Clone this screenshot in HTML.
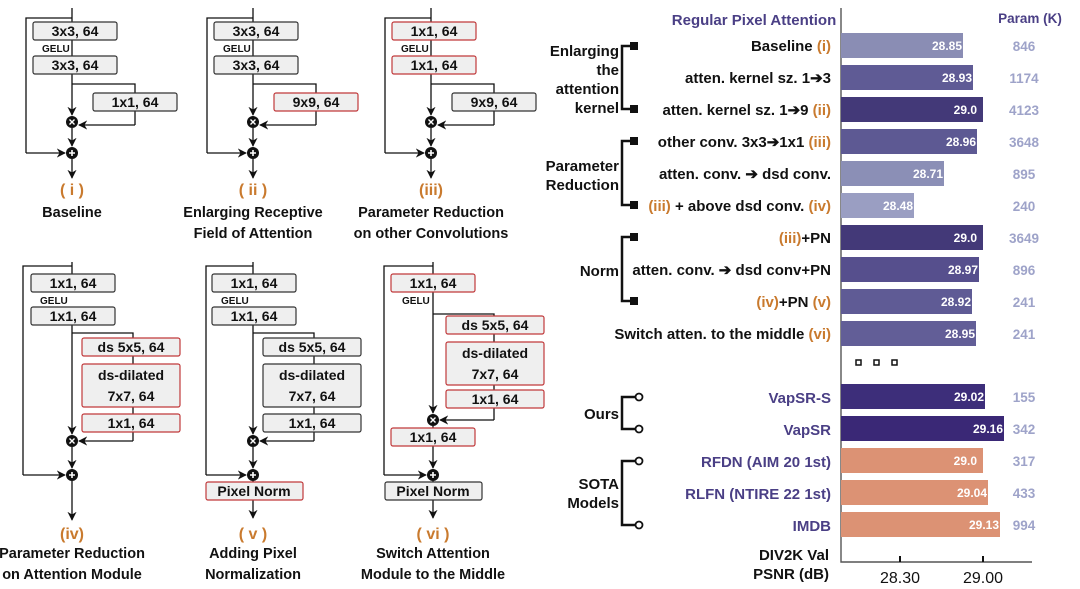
<!DOCTYPE html>
<html><head><meta charset="utf-8"><style>
html,body{margin:0;padding:0;background:#fff;}
svg{display:block;font-family:"Liberation Sans",sans-serif;}
.b{fill:#efefef;stroke:#333;stroke-width:1.2;}
.r{fill:#efefef;stroke:#c0393b;stroke-width:1.2;}
.t{font-size:14px;font-weight:bold;fill:#111;text-anchor:middle;}
.g{font-size:10px;font-weight:bold;fill:#111;}
.l{stroke:#111;stroke-width:1.3;fill:none;}
.cap{font-size:14.5px;font-weight:bold;fill:#111;text-anchor:middle;}
.ro{font-size:16px;font-weight:bold;fill:#c97a2e;text-anchor:middle;}
.lab{font-size:15px;font-weight:bold;fill:#111;text-anchor:end;}
.o{fill:#c97a2e;}
.bv{font-size:12px;font-weight:bold;fill:#fff;text-anchor:end;}
.pk{font-size:13.5px;font-weight:bold;fill:#9ea3c9;text-anchor:middle;}
</style></head><body>
<svg width="1080" height="589" viewBox="0 0 1080 589">
<defs>
<marker id="a" viewBox="0 0 10 10" refX="9" refY="5" markerWidth="7" markerHeight="7" orient="auto"><path d="M0,0 L10,5 L0,10 L3,5 z" fill="#111"/></marker>
<g id="x"><circle r="6" fill="#111"/><path d="M-2.5,-2.5 L2.5,2.5 M2.5,-2.5 L-2.5,2.5" stroke="#fff" stroke-width="1.4"/></g>
<g id="pl"><circle r="6" fill="#111"/><path d="M-3,0 H3 M0,-3 V3" stroke="#fff" stroke-width="1.6"/></g>
</defs>

<g>
<path class="l" d="M72,8 V22 M72,40 V56"/>
<path class="l" marker-end="url(#a)" d="M72,74 V115"/>
<path class="l" d="M72,18 H26 V153"/>
<path class="l" marker-end="url(#a)" d="M26,153 H65"/>
<path class="l" d="M72,84 H135 V93 M135,111 V125"/>
<path class="l" marker-end="url(#a)" d="M135,125 H79"/>
<path class="l" marker-end="url(#a)" d="M72,128 V146"/>
<path class="l" marker-end="url(#a)" d="M72,159 V178"/>
<rect class="b" x="33" y="22" width="84" height="18" rx="2"/><text class="t" x="75" y="36">3x3, 64</text>
<text class="g" x="42" y="52">GELU</text>
<rect class="b" x="33" y="56" width="84" height="18" rx="2"/><text class="t" x="75" y="70">3x3, 64</text>
<rect class="b" x="93" y="93" width="84" height="18" rx="2"/><text class="t" x="135" y="107">1x1, 64</text>
<use href="#x" x="72" y="122"/><use href="#pl" x="72" y="153"/>
<text class="ro" x="72" y="195">( i )</text>
<text class="cap" x="72" y="217">Baseline</text>
</g>
<g transform="translate(181,0)">
<path class="l" d="M72,8 V22 M72,40 V56"/>
<path class="l" marker-end="url(#a)" d="M72,74 V115"/>
<path class="l" d="M72,18 H26 V153"/>
<path class="l" marker-end="url(#a)" d="M26,153 H65"/>
<path class="l" d="M72,84 H135 V93 M135,111 V125"/>
<path class="l" marker-end="url(#a)" d="M135,125 H79"/>
<path class="l" marker-end="url(#a)" d="M72,128 V146"/>
<path class="l" marker-end="url(#a)" d="M72,159 V178"/>
<rect class="b" x="33" y="22" width="84" height="18" rx="2"/><text class="t" x="75" y="36">3x3, 64</text>
<text class="g" x="42" y="52">GELU</text>
<rect class="b" x="33" y="56" width="84" height="18" rx="2"/><text class="t" x="75" y="70">3x3, 64</text>
<rect class="r" x="93" y="93" width="84" height="18" rx="2"/><text class="t" x="135" y="107">9x9, 64</text>
<use href="#x" x="72" y="122"/><use href="#pl" x="72" y="153"/>
<text class="ro" x="72" y="195">( ii )</text>
<text class="cap" x="72" y="217">Enlarging Receptive</text>
<text class="cap" x="72" y="238">Field of Attention</text>
</g>
<g transform="translate(359,0)">
<path class="l" d="M72,8 V22 M72,40 V56"/>
<path class="l" marker-end="url(#a)" d="M72,74 V115"/>
<path class="l" d="M72,18 H26 V153"/>
<path class="l" marker-end="url(#a)" d="M26,153 H65"/>
<path class="l" d="M72,84 H135 V93 M135,111 V125"/>
<path class="l" marker-end="url(#a)" d="M135,125 H79"/>
<path class="l" marker-end="url(#a)" d="M72,128 V146"/>
<path class="l" marker-end="url(#a)" d="M72,159 V178"/>
<rect class="r" x="33" y="22" width="84" height="18" rx="2"/><text class="t" x="75" y="36">1x1, 64</text>
<text class="g" x="42" y="52">GELU</text>
<rect class="r" x="33" y="56" width="84" height="18" rx="2"/><text class="t" x="75" y="70">1x1, 64</text>
<rect class="b" x="93" y="93" width="84" height="18" rx="2"/><text class="t" x="135" y="107">9x9, 64</text>
<use href="#x" x="72" y="122"/><use href="#pl" x="72" y="153"/>
<text class="ro" x="72" y="195">(iii)</text>
<text class="cap" x="72" y="217">Parameter Reduction</text>
<text class="cap" x="72" y="238">on other Convolutions</text>
</g>

<g>
<path class="l" d="M72,262 V274"/>
<path class="l" d="M72,266 H23 V475"/>
<path class="l" marker-end="url(#a)" d="M23,475 H65"/>
<path class="l" marker-end="url(#a)" d="M72,325 V434"/>
<path class="l" d="M72,333 H133 V338 M133,356 V364 M133,407 V414 M133,432 V441"/>
<path class="l" marker-end="url(#a)" d="M133,441 H79"/>
<path class="l" marker-end="url(#a)" d="M72,447 V468"/>
<path class="l" marker-end="url(#a)" d="M72,481 V520"/>
<rect class="b" x="31" y="274" width="84" height="18" rx="2"/><text class="t" x="73" y="288">1x1, 64</text>
<text class="g" x="40" y="304">GELU</text>
<rect class="b" x="31" y="307" width="84" height="18" rx="2"/><text class="t" x="73" y="321">1x1, 64</text>
<rect class="r" x="82" y="338" width="98" height="18" rx="2"/><text class="t" x="131" y="352">ds 5x5, 64</text>
<rect class="r" x="82" y="364" width="98" height="43" rx="2"/><text class="t" x="131" y="380">ds-dilated</text><text class="t" x="131" y="401">7x7, 64</text>
<rect class="r" x="82" y="414" width="98" height="18" rx="2"/><text class="t" x="131" y="428">1x1, 64</text>
<use href="#x" x="72" y="441"/><use href="#pl" x="72" y="475"/>
<text class="ro" x="72" y="539">(iv)</text>
<text class="cap" x="72" y="558">Parameter Reduction</text>
<text class="cap" x="72" y="579">on Attention Module</text>
</g>
<g transform="translate(181,0)">
<path class="l" d="M72,262 V274"/>
<path class="l" d="M72,266 H25 V475"/>
<path class="l" marker-end="url(#a)" d="M25,475 H65"/>
<path class="l" marker-end="url(#a)" d="M72,325 V434"/>
<path class="l" d="M72,333 H133 V338 M133,356 V364 M133,407 V414 M133,432 V441"/>
<path class="l" marker-end="url(#a)" d="M133,441 H79"/>
<path class="l" marker-end="url(#a)" d="M72,447 V468"/>
<path class="l" d="M72,481 V482"/>
<path class="l" marker-end="url(#a)" d="M72,500 V518"/>
<rect class="b" x="31" y="274" width="84" height="18" rx="2"/><text class="t" x="73" y="288">1x1, 64</text>
<text class="g" x="40" y="304">GELU</text>
<rect class="b" x="31" y="307" width="84" height="18" rx="2"/><text class="t" x="73" y="321">1x1, 64</text>
<rect class="b" x="82" y="338" width="98" height="18" rx="2"/><text class="t" x="131" y="352">ds 5x5, 64</text>
<rect class="b" x="82" y="364" width="98" height="43" rx="2"/><text class="t" x="131" y="380">ds-dilated</text><text class="t" x="131" y="401">7x7, 64</text>
<rect class="b" x="82" y="414" width="98" height="18" rx="2"/><text class="t" x="131" y="428">1x1, 64</text>
<use href="#x" x="72" y="441"/><use href="#pl" x="72" y="475"/>
<rect class="r" x="25" y="482" width="97" height="18" rx="2"/><text class="t" x="73" y="496">Pixel Norm</text>
<text class="ro" x="72" y="539">( v )</text>
<text class="cap" x="72" y="558">Adding Pixel</text>
<text class="cap" x="72" y="579">Normalization</text>
</g>
<g>
<path class="l" d="M433,262 V274"/>
<path class="l" d="M433,266 H384 V475"/>
<path class="l" marker-end="url(#a)" d="M384,475 H426"/>
<path class="l" marker-end="url(#a)" d="M433,292 V413"/>
<path class="l" d="M433,314 H494 V316 M494,334 V342 M494,385 V390 M494,408 V420"/>
<path class="l" marker-end="url(#a)" d="M494,420 H440"/>
<path class="l" d="M433,426 V428"/>
<path class="l" marker-end="url(#a)" d="M433,446 V468"/>
<path class="l" d="M433,481 V482"/>
<path class="l" marker-end="url(#a)" d="M433,500 V518"/>
<rect class="r" x="391" y="274" width="84" height="18" rx="2"/><text class="t" x="433" y="288">1x1, 64</text>
<text class="g" x="402" y="304">GELU</text>
<rect class="r" x="446" y="316" width="98" height="18" rx="2"/><text class="t" x="495" y="330">ds 5x5, 64</text>
<rect class="r" x="446" y="342" width="98" height="43" rx="2"/><text class="t" x="495" y="358">ds-dilated</text><text class="t" x="495" y="379">7x7, 64</text>
<rect class="r" x="446" y="390" width="98" height="18" rx="2"/><text class="t" x="495" y="404">1x1, 64</text>
<use href="#x" x="433" y="420"/>
<rect class="r" x="391" y="428" width="84" height="18" rx="2"/><text class="t" x="433" y="442">1x1, 64</text>
<use href="#pl" x="433" y="475"/>
<rect class="b" x="385" y="482" width="97" height="18" rx="2"/><text class="t" x="433" y="496">Pixel Norm</text>
<text class="ro" x="433" y="539">( vi )</text>
<text class="cap" x="433" y="558">Switch Attention</text>
<text class="cap" x="433" y="579">Module to the Middle</text>
</g>

<text x="754" y="25" style="font-size:15px;font-weight:bold;fill:#4a3f85" text-anchor="middle">Regular Pixel Attention</text>
<text x="1030" y="23" style="font-size:13.5px;font-weight:bold;fill:#4a3f85" text-anchor="middle">Param (K)</text>
<path d="M841,8 V562 H1032" stroke="#555" stroke-width="1.4" fill="none"/>
<path d="M900,556 V562 M983,556 V562" stroke="#111" stroke-width="2"/>
<text x="900" y="583" style="font-size:16px;fill:#111" text-anchor="middle">28.30</text>
<text x="983" y="583" style="font-size:16px;fill:#111" text-anchor="middle">29.00</text>

<g>
<rect x="841" y="33" width="122" height="25" fill="#8a8db4"/><text class="bv" x="962" y="50">28.85</text><text class="pk" x="1024" y="51">846</text>
<rect x="841" y="65" width="132" height="25" fill="#5f5b95"/><text class="bv" x="972" y="82">28.93</text><text class="pk" x="1024" y="83">1174</text>
<rect x="841" y="97" width="142" height="25" fill="#433978"/><text class="bv" x="977" y="114">29.0</text><text class="pk" x="1024" y="115">4123</text>
<rect x="841" y="129" width="136" height="25" fill="#5d5993"/><text class="bv" x="976" y="146">28.96</text><text class="pk" x="1024" y="147">3648</text>
<rect x="841" y="161" width="103" height="25" fill="#8b8fb6"/><text class="bv" x="943" y="178">28.71</text><text class="pk" x="1024" y="179">895</text>
<rect x="841" y="193" width="73" height="25" fill="#9a9ec2"/><text class="bv" x="913" y="210">28.48</text><text class="pk" x="1024" y="211">240</text>
<rect x="841" y="225" width="142" height="25" fill="#433978"/><text class="bv" x="977" y="242">29.0</text><text class="pk" x="1024" y="243">3649</text>
<rect x="841" y="257" width="138" height="25" fill="#564f8d"/><text class="bv" x="978" y="274">28.97</text><text class="pk" x="1024" y="275">896</text>
<rect x="841" y="289" width="131" height="25" fill="#5f5b95"/><text class="bv" x="971" y="306">28.92</text><text class="pk" x="1024" y="307">241</text>
<rect x="841" y="321" width="135" height="25" fill="#625e97"/><text class="bv" x="975" y="338">28.95</text><text class="pk" x="1024" y="339">241</text>
<rect x="856" y="360" width="5" height="5" fill="#fff" stroke="#111" stroke-width="1.5"/>
<rect x="874" y="360" width="5" height="5" fill="#fff" stroke="#111" stroke-width="1.5"/>
<rect x="892" y="360" width="5" height="5" fill="#fff" stroke="#111" stroke-width="1.5"/>
<rect x="841" y="384" width="144" height="25" fill="#3d2e7a"/><text class="bv" x="984" y="401">29.02</text><text class="pk" x="1024" y="402">155</text>
<rect x="841" y="416" width="163" height="25" fill="#3a2876"/><text class="bv" x="1003" y="433">29.16</text><text class="pk" x="1024" y="434">342</text>
<rect x="841" y="448" width="142" height="25" fill="#dc9274"/><text class="bv" x="977" y="465">29.0</text><text class="pk" x="1024" y="466">317</text>
<rect x="841" y="480" width="147" height="25" fill="#dc9274"/><text class="bv" x="987" y="497">29.04</text><text class="pk" x="1024" y="498">433</text>
<rect x="841" y="512" width="159" height="25" fill="#dc9274"/><text class="bv" x="999" y="529">29.13</text><text class="pk" x="1024" y="530">994</text>
</g>

<g>
<text class="lab" x="831" y="51">Baseline <tspan class="o">(i)</tspan></text>
<text class="lab" x="831" y="83">atten. kernel sz. 1➔3</text>
<text class="lab" x="831" y="115">atten. kernel sz. 1➔9 <tspan class="o">(ii)</tspan></text>
<text class="lab" x="831" y="147">other conv. 3x3➔1x1 <tspan class="o">(iii)</tspan></text>
<text class="lab" x="831" y="179">atten. conv. ➔ dsd conv.</text>
<text class="lab" x="831" y="211"><tspan class="o">(iii)</tspan> + above dsd conv. <tspan class="o">(iv)</tspan></text>
<text class="lab" x="831" y="243"><tspan class="o">(iii)</tspan>+PN</text>
<text class="lab" x="831" y="275">atten. conv. ➔ dsd conv+PN</text>
<text class="lab" x="831" y="307"><tspan class="o">(iv)</tspan>+PN <tspan class="o">(v)</tspan></text>
<text class="lab" x="831" y="339">Switch atten. to the middle <tspan class="o">(vi)</tspan></text>
<text class="lab" x="831" y="403" style="fill:#4a3f85">VapSR-S</text>
<text class="lab" x="831" y="435" style="fill:#4a3f85">VapSR</text>
<text class="lab" x="831" y="467" style="fill:#4a3f85">RFDN (AIM 20 1st)</text>
<text class="lab" x="831" y="499" style="fill:#4a3f85">RLFN (NTIRE 22 1st)</text>
<text class="lab" x="831" y="531" style="fill:#4a3f85">IMDB</text>
<text class="lab" x="829" y="560">DIV2K Val</text>
<text class="lab" x="829" y="579">PSNR (dB)</text>
</g>

<g stroke="#111" stroke-width="2.5" fill="none">
<path d="M633,46 H622 V109 H633"/>
<path d="M633,141 H622 V205 H633"/>
<path d="M633,237 H622 V301 H633"/>
<path d="M636,397 H622 V429 H636"/>
<path d="M636,461 H622 V525 H636"/>
</g>
<g fill="#111">
<rect x="630" y="42" width="8" height="8"/><rect x="630" y="105" width="8" height="8"/>
<rect x="630" y="137" width="8" height="8"/><rect x="630" y="201" width="8" height="8"/>
<rect x="630" y="233" width="8" height="8"/><rect x="630" y="297" width="8" height="8"/>
</g>
<g fill="#fff" stroke="#111" stroke-width="1.8">
<circle cx="639" cy="397" r="3.5"/><circle cx="639" cy="429" r="3.5"/>
<circle cx="639" cy="461" r="3.5"/><circle cx="639" cy="525" r="3.5"/>
</g>
<g>
<text class="lab" x="619" y="56">Enlarging</text>
<text class="lab" x="619" y="75">the</text>
<text class="lab" x="619" y="94">attention</text>
<text class="lab" x="619" y="113">kernel</text>
<text class="lab" x="619" y="171">Parameter</text>
<text class="lab" x="619" y="190">Reduction</text>
<text class="lab" x="619" y="276">Norm</text>
<text class="lab" x="619" y="419">Ours</text>
<text class="lab" x="619" y="489">SOTA</text>
<text class="lab" x="619" y="508">Models</text>
</g>
</svg>
</body></html>
